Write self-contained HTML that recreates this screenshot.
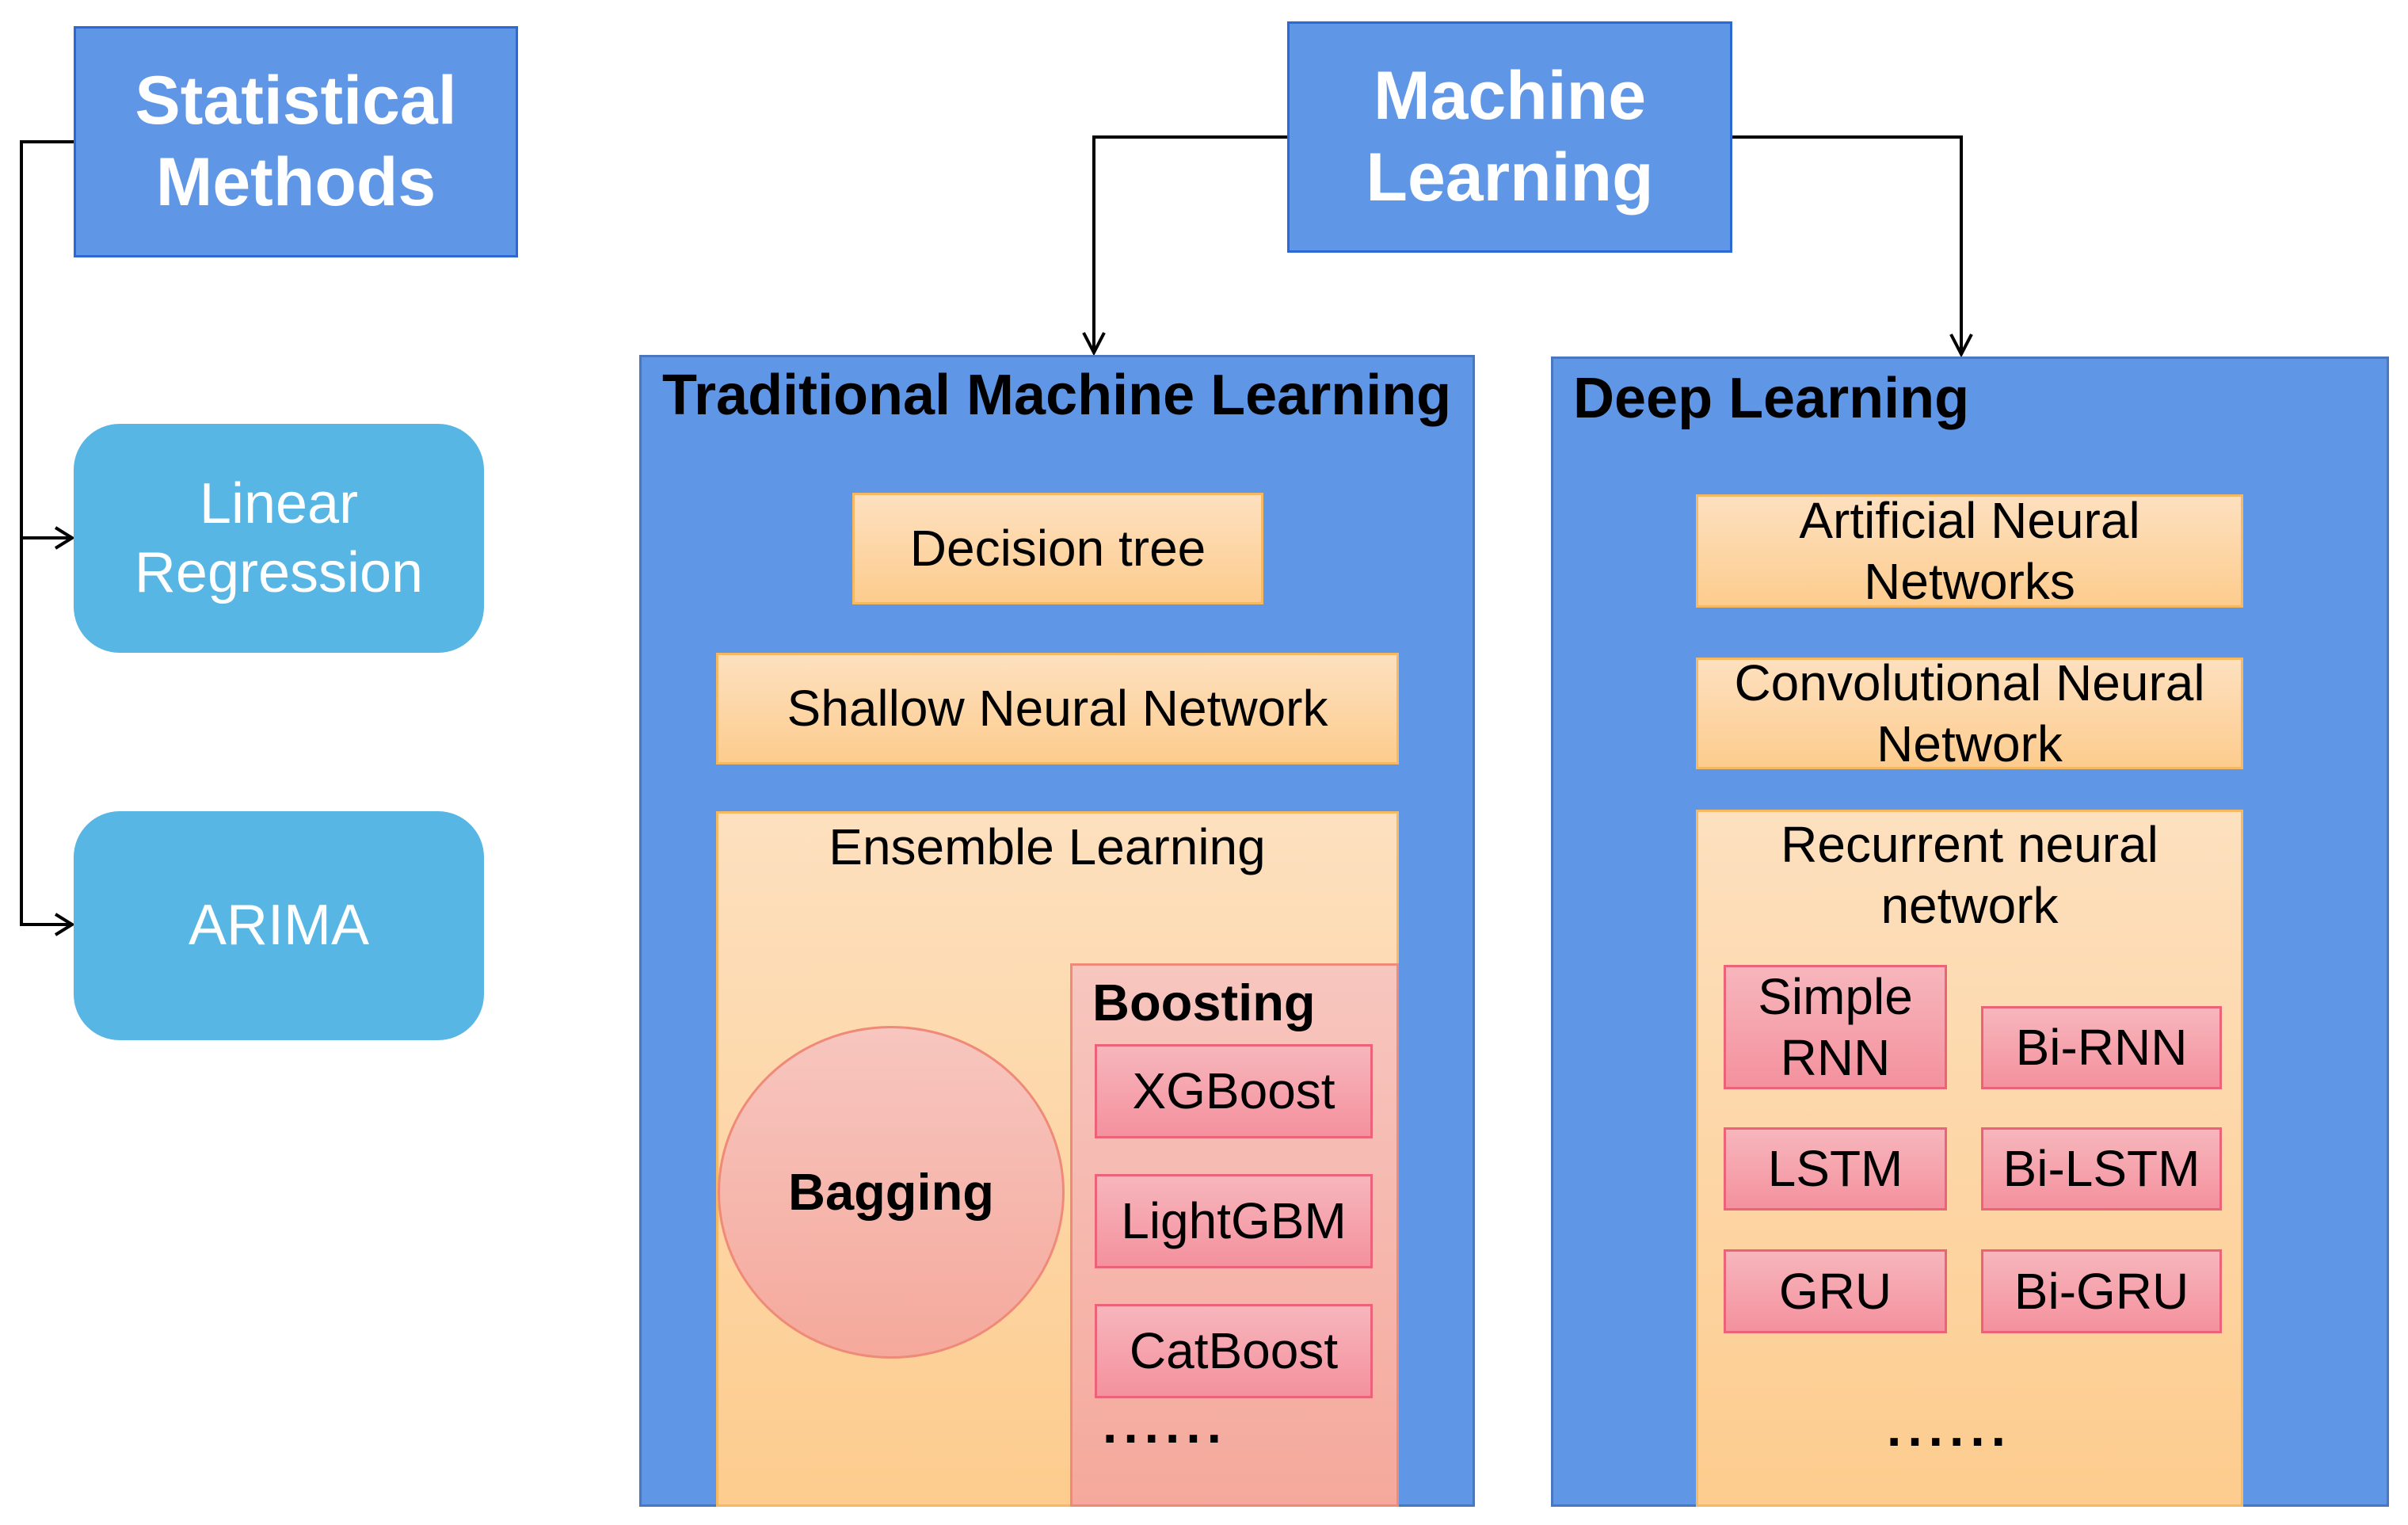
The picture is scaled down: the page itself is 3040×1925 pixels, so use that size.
<!DOCTYPE html>
<html><head><meta charset="utf-8"><style>
body{margin:0;width:3040px;height:1925px;background:#fff;position:relative;overflow:hidden;font-family:"Liberation Sans",Arial,sans-serif}
.b{position:absolute;box-sizing:border-box;display:flex;align-items:center;justify-content:center;text-align:center;line-height:1.2}
.hdr{background:#6096e6;border:3px solid #2c68d6;color:#fff;font-weight:bold;font-size:86px;line-height:1.2}
.rnd{background:#58b6e4;border-radius:58px;color:#fff;font-size:72px}
.panel{position:absolute;box-sizing:border-box;background:#6096e6;border:3px solid #4a78c0}
.ptitle{position:absolute;font-weight:bold;font-size:72px;color:#000;white-space:nowrap}
.or{background:linear-gradient(#fde0bf,#fdcc8e);border:3px solid #f7b862;font-size:64px;color:#000}
.pk{background:linear-gradient(#f7c6bf,#f5a99c);border:3px solid #f08a78}
.rd{background:linear-gradient(#f7b6bc,#f4919e);border:3px solid #ec6278;font-size:64px;color:#000}
.t{position:absolute;color:#000;font-size:64px;white-space:nowrap;text-align:center}
</style></head><body>
<svg width="3040" height="1925" style="position:absolute;left:0;top:0" fill="none" stroke="#000" stroke-width="4">
<polyline points="93,179 27,179 27,1167 90,1167"/>
<line x1="27" y1="679" x2="90" y2="679"/>
<polyline points="70,666 91,679 70,692"/>
<polyline points="70,1154 91,1167 70,1180"/>
<polyline points="1625,173 1381,173 1381,444"/>
<polyline points="1368,420 1381,445 1394,420"/>
<polyline points="2187,173 2476,173 2476,446"/>
<polyline points="2463,422 2476,447 2489,422"/>
</svg>
<div class="b hdr" style="left:93px;top:33px;width:561px;height:292px">Statistical<br>Methods</div>
<div class="b rnd" style="left:93px;top:535px;width:518px;height:289px">Linear<br>Regression</div>
<div class="b rnd" style="left:93px;top:1024px;width:518px;height:289px">ARIMA</div>
<div class="b hdr" style="left:1625px;top:27px;width:562px;height:292px">Machine<br>Learning</div>

<div class="panel" style="left:807px;top:448px;width:1055px;height:1454px"></div>
<div class="ptitle" style="left:836px;top:458px">Traditional Machine Learning</div>
<div class="b or" style="left:1076px;top:622px;width:519px;height:141px">Decision tree</div>
<div class="b or" style="left:904px;top:824px;width:862px;height:141px">Shallow Neural Network</div>
<div class="b or" style="left:904px;top:1024px;width:862px;height:878px;align-items:flex-start"></div>
<div class="t" style="left:904px;width:836px;top:1032px">Ensemble Learning</div>
<div class="b pk" style="left:1351px;top:1216px;width:415px;height:686px"></div>
<div class="t" style="left:1379px;top:1228px;font-weight:bold;font-size:65px">Boosting</div>
<div class="b rd" style="left:1382px;top:1318px;width:351px;height:119px">XGBoost</div>
<div class="b rd" style="left:1382px;top:1482px;width:351px;height:119px">LightGBM</div>
<div class="b rd" style="left:1382px;top:1646px;width:351px;height:119px">CatBoost</div>
<div class="t" style="left:1392px;top:1760px;font-weight:bold;font-size:66px;letter-spacing:8px">......</div>
<div class="b pk" style="left:906px;top:1295px;width:438px;height:420px;border-radius:50%;font-weight:bold;font-size:65px;color:#000">Bagging</div>

<div class="panel" style="left:1958px;top:450px;width:1058px;height:1452px"></div>
<div class="ptitle" style="left:1986px;top:462px">Deep Learning</div>
<div class="b or" style="left:2141px;top:624px;width:691px;height:143px;line-height:1.2">Artificial Neural<br>Networks</div>
<div class="b or" style="left:2141px;top:830px;width:691px;height:141px;line-height:1.2">Convolutional Neural<br>Network</div>
<div class="b or" style="left:2141px;top:1022px;width:691px;height:880px"></div>
<div class="t" style="left:2141px;width:691px;top:1028px;line-height:1.2">Recurrent neural<br>network</div>
<div class="b rd" style="left:2176px;top:1218px;width:282px;height:157px;line-height:1.2">Simple<br>RNN</div>
<div class="b rd" style="left:2501px;top:1270px;width:304px;height:105px">Bi-RNN</div>
<div class="b rd" style="left:2176px;top:1423px;width:282px;height:105px">LSTM</div>
<div class="b rd" style="left:2501px;top:1423px;width:304px;height:105px">Bi-LSTM</div>
<div class="b rd" style="left:2176px;top:1577px;width:282px;height:106px">GRU</div>
<div class="b rd" style="left:2501px;top:1577px;width:304px;height:106px">Bi-GRU</div>
<div class="t" style="left:2382px;top:1764px;font-weight:bold;font-size:66px;letter-spacing:8px">......</div>
</body></html>
